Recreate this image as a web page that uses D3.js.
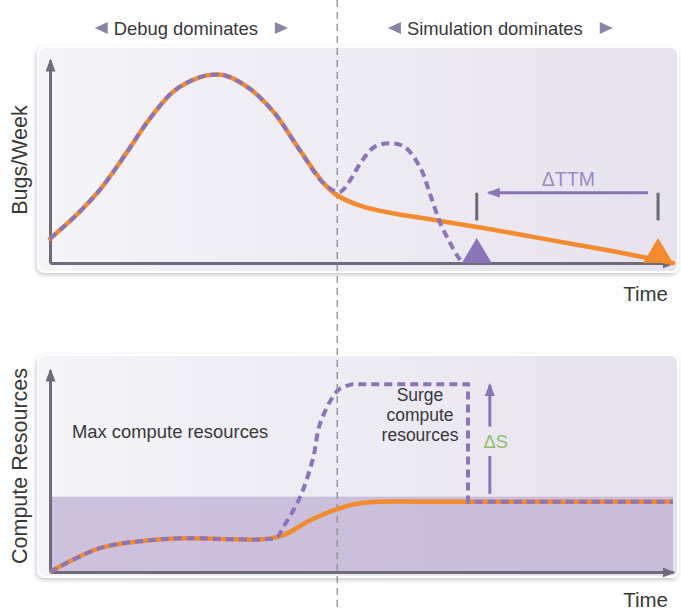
<!DOCTYPE html>
<html>
<head>
<meta charset="utf-8">
<script src="https://cdn.jsdelivr.net/npm/d3@7"></script>
<style>
	body { margin: 0; background: #fff; }
	svg { display: block; font-family: "Liberation Sans", Arial, sans-serif; }
</style>
</head>
<body>
<div id="chart"></div>
<script>
// phases along the time axis (0..100)
const phases = ["Debug dominates", "Simulation dominates"];
const phaseCenters = [21.8, 71.4];
const phaseBoundary = 46.1;

// top panel: bugs per week
const bugTime = [0, 4, 8, 12, 16, 20, 24, 26, 28, 32, 36, 40, 44, 46, 50, 55, 60, 70, 80, 90, 100];
const bugsFixed = [12, 23, 36, 53, 71, 85, 91.5, 92.7, 92.5, 86, 74, 56, 39, 33.5, 28, 24.5, 22, 17, 11.5, 6, 0];
const surgeTime = [0, 4, 8, 12, 16, 20, 24, 26, 28, 32, 36, 40, 44, 46.5, 48, 50, 52, 54.6, 57, 59.5, 61, 62.6, 64.2, 65.5, 66.3];
const bugsSurge = [12, 23, 36, 53, 71, 85, 91.5, 92.7, 92.5, 86, 74, 56, 39, 35, 40, 50, 57, 59, 57, 46.5, 34, 20, 10, 3, 0];
const doneTimes = [68.5, 97.6]; // surge, fixed
const ttmLevel = 34.6;
const ttmTickLow = 21;

// bottom panel: compute resources
const resTime = [0, 8, 16, 22, 29.4, 34.2, 37.4, 41.7, 45.4, 49.3, 53.5, 60, 100];
const resFixed = [0, 11.8, 15.7, 16.7, 16.2, 16.2, 18.1, 25.5, 30.4, 33.8, 34.8, 34.8, 34.8];
const resSurgeTime = [0, 8, 16, 22, 29.4, 34.2, 36.4, 37.4, 40.1, 42.2, 43.3, 45.4, 46.5, 48.6];
const resSurge = [0, 11.8, 15.7, 16.7, 16.2, 16.2, 17.2, 22, 36.8, 56, 73, 86.8, 90.7, 93];
const surgeStep = [[48.6, 93], [67.1, 93], [67.1, 34.8], [100, 34.8]];
const maxCompute = 37.3;
const deltaS = { t: 70.6, from: 38.7, to: 93.6, gapLow: 57.4, gapHigh: 72 };
const surgeLabel = ["Surge", "compute", "resources"];

const width = 681;
const height = 611;
const orange = "#f28a2e";
const purple = "#8b74b7";
const axisColor = "#6e6a79";
const textColor = "#383838";

const x = d3.scaleLinear().domain([0, 100]).range([50, 673]);
const yBugs = d3.scaleLinear().domain([0, 100]).range([263, 60]);
const yRes = d3.scaleLinear().domain([0, 100]).range([572, 370]);

const svg = d3.select("#chart")
	.append("svg")
	.attr("width", width)
	.attr("height", height)
	.attr("viewBox", [0, 0, width, height]);

const defs = svg.append("defs");

const bg = defs.append("linearGradient").attr("id", "bg");
bg.append("stop").attr("offset", "0%").attr("stop-color", "#f5f4f8");
bg.append("stop").attr("offset", "100%").attr("stop-color", "#e6e2ee");

const fillGrad = defs.append("linearGradient").attr("id", "fillGrad");
fillGrad.append("stop").attr("offset", "0%").attr("stop-color", "#cdc2de");
fillGrad.append("stop").attr("offset", "100%").attr("stop-color", "#c7bcd9");

defs.append("filter")
	.attr("id", "shadow")
	.attr("x", "-5%").attr("y", "-5%").attr("width", "110%").attr("height", "115%")
	.append("feDropShadow")
	.attr("dx", -1).attr("dy", 2)
	.attr("stdDeviation", 2)
	.attr("flood-color", "#000")
	.attr("flood-opacity", 0.22);

const marker = (id, color) => defs.append("marker")
	.attr("id", id)
	.attr("viewBox", "0 0 13 10")
	.attr("refX", 11)
	.attr("refY", 5)
	.attr("markerWidth", 13)
	.attr("markerHeight", 10)
	.attr("markerUnits", "userSpaceOnUse")
	.attr("orient", "auto")
	.append("path")
	.attr("d", "M0,0L13,5L0,10z")
	.attr("fill", color);

marker("axisArrow", axisColor);
marker("purpleArrow", purple);

// panel boxes
svg.append("rect")
	.attr("x", 38).attr("y", 47).attr("width", 640).attr("height", 225)
	.attr("rx", 7)
	.attr("fill", "url(#bg)")
	.attr("stroke", "#fff").attr("stroke-width", 2)
	.attr("filter", "url(#shadow)");

svg.append("rect")
	.attr("x", 38).attr("y", 355).attr("width", 640).attr("height", 222)
	.attr("rx", 7)
	.attr("fill", "url(#bg)")
	.attr("stroke", "#fff").attr("stroke-width", 2)
	.attr("filter", "url(#shadow)");

// max compute band
svg.append("rect")
	.attr("x", x(0))
	.attr("y", yRes(maxCompute))
	.attr("width", x(100) - x(0))
	.attr("height", yRes(0) - yRes(maxCompute))
	.attr("fill", "url(#fillGrad)");

// phase boundary
svg.append("line")
	.attr("x1", x(phaseBoundary)).attr("x2", x(phaseBoundary))
	.attr("y1", 0).attr("y2", height)
	.attr("stroke", "#8e8e8e")
	.attr("stroke-width", 1.3)
	.attr("stroke-dasharray", "7,5");

// header
const header = svg.append("g")
	.attr("font-size", 18.4)
	.attr("fill", textColor);

phases.forEach((p, i) => {
	const cx = x(phaseCenters[i]);
	const t = header.append("text")
		.attr("x", cx)
		.attr("y", 34.5)
		.attr("text-anchor", "middle")
		.text(p);
	const w = t.node().getComputedTextLength();
	const l = cx - w / 2 - 19;
	const r = cx + w / 2 + 17;
	header.append("path")
		.attr("d", `M${l},28L${l + 13},22L${l + 13},34Z`)
		.attr("fill", "#8a83a5");
	header.append("path")
		.attr("d", `M${r + 13},28L${r},22L${r},34Z`)
		.attr("fill", "#8a83a5");
});

// axes
const drawAxes = (y, yTitle, titleY, timeY) => {
	svg.append("g")
		.attr("transform", `translate(${x(0)},0)`)
		.call(d3.axisLeft(y).ticks(0).tickSizeOuter(0))
		.call(g => g.select(".domain")
			.attr("stroke", axisColor)
			.attr("stroke-width", 3)
			.attr("marker-end", "url(#axisArrow)"));

	svg.append("g")
		.attr("transform", `translate(0,${y(0)})`)
		.call(d3.axisBottom(x).ticks(0).tickSizeOuter(0))
		.call(g => g.select(".domain")
			.attr("stroke", axisColor)
			.attr("stroke-width", 3)
			.attr("marker-end", "url(#axisArrow)"));

	svg.append("text")
		.attr("transform", `translate(27,${titleY}) rotate(-90)`)
		.attr("text-anchor", "middle")
		.attr("font-size", 21.5)
		.attr("fill", textColor)
		.text(yTitle);

	svg.append("text")
		.attr("x", 668)
		.attr("y", timeY)
		.attr("text-anchor", "end")
		.attr("font-size", 20.5)
		.attr("fill", textColor)
		.text("Time");
};

drawAxes(yBugs, "Bugs/Week", 160, 301);
drawAxes(yRes, "Compute Resources", 466, 607);

// top panel curves
const lineBugs = d3.line()
	.x(d => x(d[0]))
	.y(d => yBugs(d[1]))
	.curve(d3.curveCatmullRom);

svg.append("path")
	.attr("d", lineBugs(d3.zip(bugTime, bugsFixed)))
	.attr("fill", "none")
	.attr("stroke", orange)
	.attr("stroke-width", 4.5)
	.attr("stroke-linecap", "round");

svg.append("path")
	.attr("d", lineBugs(d3.zip(surgeTime, bugsSurge)))
	.attr("fill", "none")
	.attr("stroke", purple)
	.attr("stroke-width", 4)
	.attr("stroke-dasharray", "8,5");

// completion markers
const tri = (t, color) => svg.append("path")
	.attr("d", `M${x(t)},${yBugs(0) - 25}L${x(t) + 15},${yBugs(0)}L${x(t) - 15},${yBugs(0)}Z`)
	.attr("fill", color);
tri(doneTimes[0], purple);
tri(doneTimes[1], orange);

// delta TTM bracket
doneTimes.forEach(t => {
	svg.append("line")
		.attr("x1", x(t)).attr("x2", x(t))
		.attr("y1", yBugs(ttmLevel)).attr("y2", yBugs(ttmTickLow))
		.attr("stroke", "#6c6878")
		.attr("stroke-width", 3);
});

svg.append("line")
	.attr("x1", x(doneTimes[1]) - 10)
	.attr("x2", x(doneTimes[0]) + 12)
	.attr("y1", yBugs(ttmLevel)).attr("y2", yBugs(ttmLevel))
	.attr("stroke", purple)
	.attr("stroke-width", 3)
	.attr("marker-end", "url(#purpleArrow)");

svg.append("text")
	.attr("x", x((doneTimes[0] + doneTimes[1]) / 2) + 1)
	.attr("y", yBugs(ttmLevel) - 7)
	.attr("text-anchor", "middle")
	.attr("font-size", 19.5)
	.attr("fill", "#9b89c6")
	.text("\u0394TTM");

// bottom panel curves
const lineRes = d3.line()
	.x(d => x(d[0]))
	.y(d => yRes(d[1]))
	.curve(d3.curveCatmullRom);

svg.append("path")
	.attr("d", lineRes(d3.zip(resTime, resFixed)))
	.attr("fill", "none")
	.attr("stroke", orange)
	.attr("stroke-width", 4.5);

const surgePath = lineRes(d3.zip(resSurgeTime, resSurge)) +
	d3.line().x(d => x(d[0])).y(d => yRes(d[1]))(surgeStep).replace(/^M/, "L");

svg.append("path")
	.attr("d", surgePath)
	.attr("fill", "none")
	.attr("stroke", purple)
	.attr("stroke-width", 4)
	.attr("stroke-dasharray", "8,5");

// delta S arrow
svg.append("line")
	.attr("x1", x(deltaS.t)).attr("x2", x(deltaS.t))
	.attr("y1", yRes(deltaS.from)).attr("y2", yRes(deltaS.gapLow))
	.attr("stroke", purple).attr("stroke-width", 3);

svg.append("line")
	.attr("x1", x(deltaS.t)).attr("x2", x(deltaS.t))
	.attr("y1", yRes(deltaS.gapHigh)).attr("y2", yRes(deltaS.to) + 2)
	.attr("stroke", purple).attr("stroke-width", 3)
	.attr("marker-end", "url(#purpleArrow)");

svg.append("text")
	.attr("x", x(deltaS.t) + 6)
	.attr("y", yRes((deltaS.gapLow + deltaS.gapHigh) / 2) + 6.5)
	.attr("text-anchor", "middle")
	.attr("font-size", 18.4)
	.attr("fill", "#8fbd6c")
	.text("\u0394S");

// annotations
svg.append("text")
	.attr("x", 72)
	.attr("y", 438)
	.attr("font-size", 18.4)
	.attr("fill", textColor)
	.text("Max compute resources");

svg.append("text")
	.attr("text-anchor", "middle")
	.attr("font-size", 17.5)
	.attr("fill", textColor)
	.selectAll("tspan")
	.data(surgeLabel)
	.join("tspan")
	.attr("x", 420)
	.attr("y", (d, i) => 401 + i * 20)
	.text(d => d);
</script>
</body>
</html>
